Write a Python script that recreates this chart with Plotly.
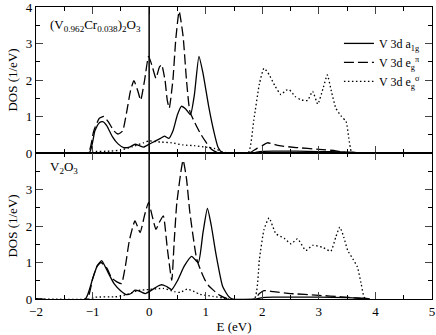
import plotly.graph_objects as go
from plotly.subplots import make_subplots

# ==== Data ====
# top panel: (V0.962Cr0.038)2O3
top_a1g_e = [-2.0, -1.06, -0.96, -0.88, -0.82, -0.75, -0.65, -0.55, -0.45, -0.35, -0.25, -0.17, -0.1, 0.0, 0.1,
             0.2, 0.27, 0.35, 0.42, 0.5, 0.57, 0.65, 0.73, 0.8, 0.88, 0.95, 1.05, 1.15, 1.22, 1.3,
             1.85, 1.95, 2.2, 2.6, 3.0, 3.4, 3.6, 3.7]
top_a1g = [0, 0, 0.6, 0.83, 0.86, 0.75, 0.45, 0.25, 0.15, 0.16, 0.24, 0.2, 0.16, 0.24, 0.32,
           0.4, 0.46, 0.4, 0.6, 1.05, 1.28, 1.2, 1.05, 1.6, 2.65, 2.2, 1.3, 0.55, 0.15, 0,
           0, 0.04, 0.05, 0.05, 0.04, 0.03, 0.02, 0]

top_pi_e = [-2.0, -1.08, -0.98, -0.88, -0.8, -0.72, -0.62, -0.55, -0.47, -0.4, -0.33, -0.27, -0.2, -0.15,
            -0.08, -0.01, 0.05, 0.12, 0.18, 0.22, 0.28, 0.32, 0.355, 0.42, 0.47, 0.53, 0.6, 0.66, 0.72,
            0.81, 0.9, 0.99, 1.1, 1.2, 1.3,
            1.77, 1.9, 2.0, 2.09, 2.3, 2.6, 3.0, 3.3, 3.5]
top_pi = [0, 0, 0.6, 0.95, 1.0, 0.85, 0.6, 0.52, 0.6, 1.1, 1.7, 1.98, 1.7, 1.45,
          2.0, 2.65, 2.4, 2.05, 2.35, 2.42, 2.0, 1.45, 1.23, 2.0, 3.1, 3.88, 3.2, 2.0, 1.14,
          0.82, 0.55, 0.33, 0.1, 0.02, 0,
          0, 0.12, 0.2, 0.28, 0.2, 0.15, 0.1, 0.06, 0]

top_sig_e = [-2.0, -1.1, -1.0, -0.7, -0.5, -0.3, -0.1, 0.0, 0.2, 0.4, 0.6, 0.8, 1.0, 1.15, 1.3, 1.4,
             1.75, 1.85, 1.95, 2.03, 2.12, 2.22, 2.33, 2.42, 2.48, 2.58, 2.68, 2.8, 2.89, 2.98, 3.08,
             3.15, 3.22, 3.3, 3.4, 3.48, 3.53, 3.57, 3.6]
top_sig = [0, 0, 0.04, 0.05, 0.08, 0.17, 0.28, 0.33, 0.3, 0.28, 0.22, 0.2, 0.16, 0.13, 0.03, 0,
           0, 0.9, 1.9, 2.32, 2.15, 1.85, 1.6, 1.72, 1.73, 1.55, 1.46, 1.44, 1.69, 1.34, 1.8,
           2.14, 1.7, 1.23, 1.0, 0.87, 0.4, 0.05, 0]

# bottom panel: V2O3
bot_a1g_e = [-2.0, -1.13, -1.0, -0.92, -0.84, -0.75, -0.62, -0.5, -0.4, -0.32, -0.25, -0.15, -0.07, 0.05,
             0.15, 0.22, 0.3, 0.4, 0.5, 0.62, 0.75, 0.87, 0.95, 1.03, 1.1, 1.18, 1.3, 1.4, 1.47,
             1.9, 2.0, 2.2, 3.0, 3.5, 3.8, 3.9]
bot_a1g = [0, 0, 0.55, 0.9, 1.05, 0.8, 0.42, 0.22, 0.12, 0.15, 0.24, 0.2, 0.15, 0.25,
           0.35, 0.39, 0.35, 0.26, 0.5, 0.9, 1.17, 1.0, 1.8, 2.48, 2.0, 1.24, 0.34, 0.08, 0,
           0, 0.04, 0.05, 0.05, 0.04, 0.02, 0]

bot_pi_e = [-2.0, -1.1, -1.0, -0.92, -0.85, -0.75, -0.66, -0.57, -0.49, -0.42, -0.35, -0.25, -0.16,
            -0.08, -0.01, 0.05, 0.12, 0.18, 0.25, 0.32, 0.4, 0.44, 0.49, 0.6, 0.66, 0.72, 0.84, 0.92,
            0.99, 1.06, 1.13, 1.25, 1.4,
            1.86, 1.95, 2.03, 2.2, 2.5, 3.0, 3.4, 3.7, 3.8]
bot_pi = [0, 0, 0.55, 0.9, 1.0, 0.85, 0.57, 0.47, 0.42, 0.9, 1.6, 2.14, 1.82,
          2.3, 2.65, 2.3, 1.91, 2.1, 2.28, 1.4, 0.51, 1.5, 2.64, 3.8, 3.3, 2.37, 1.1, 0.75,
          0.51, 0.35, 0.25, 0.1, 0,
          0, 0.15, 0.23, 0.2, 0.15, 0.1, 0.06, 0.02, 0]

bot_sig_e = [-2.0, -1.05, -0.95, -0.6, -0.4, -0.2, 0.0, 0.25, 0.45, 0.55, 0.67, 0.8, 0.9, 1.13, 1.3, 1.4,
             1.86, 1.95, 2.03, 2.12, 2.24, 2.39, 2.51, 2.62, 2.77, 2.89, 3.06, 3.21, 3.3, 3.37, 3.44,
             3.51, 3.6, 3.68, 3.75, 3.8, 3.85]
bot_sig = [0, 0, 0.05, 0.06, 0.12, 0.23, 0.26, 0.29, 0.2, 0.18, 0.27, 0.2, 0.13, 0.07, 0.03, 0,
           0, 1.1, 1.9, 2.22, 1.79, 1.66, 1.51, 1.65, 1.33, 1.47, 1.42, 1.31, 1.7, 1.97, 1.7,
           1.33, 1.1, 0.88, 0.4, 0.05, 0]

series_names = ['V 3d a<sub>1g</sub>', 'V 3d e<sub>g</sub><sup>π</sup>', 'V 3d e<sub>g</sub><sup>σ</sup>']
panel_labels = ['(V<sub>0.962</sub>Cr<sub>0.038</sub>)<sub>2</sub>O<sub>3</sub>', 'V<sub>2</sub>O<sub>3</sub>']

# ==== Figure ====
FONT = 'Liberation Serif'
dashes = ['solid', '10px,4px', '1.5px,2.5px']

fig = make_subplots(rows=2, cols=1, shared_xaxes=True, vertical_spacing=0)

panels = [
    [(top_a1g_e, top_a1g), (top_pi_e, top_pi), (top_sig_e, top_sig)],
    [(bot_a1g_e, bot_a1g), (bot_pi_e, bot_pi), (bot_sig_e, bot_sig)],
]
for r, curves in enumerate(panels, start=1):
    for k, (e, d) in enumerate(curves):
        fig.add_trace(go.Scatter(
            x=e, y=d, mode='lines',
            line=dict(color='black', width=1.3, dash=dashes[k], shape='spline', smoothing=0.5),
            name=series_names[k], showlegend=(r == 1),
        ), row=r, col=1)

# Fermi level
fig.add_shape(type='line', x0=0, x1=0, y0=0, y1=1, xref='x', yref='paper',
              line=dict(color='black', width=1.5))

fig.add_annotation(x=-1.78, y=3.5, xref='x', yref='y', text=panel_labels[0], showarrow=False,
                   xanchor='left', font=dict(family=FONT, size=13, color='black'))
fig.add_annotation(x=-1.78, y=3.6, xref='x2', yref='y2', text=panel_labels[1], showarrow=False,
                   xanchor='left', font=dict(family=FONT, size=13, color='black'))

xax = dict(range=[-2, 5], dtick=1, ticks='inside', ticklen=7, showline=True, linecolor='black',
           linewidth=1.3, mirror='allticks', showgrid=False, zeroline=False,
           minor=dict(dtick=0.5, ticks='inside', ticklen=4, tickcolor='black'),
           tickfont=dict(family=FONT, size=13, color='black'), ticklabeloverflow='allow')
yax = dict(range=[0, 4], ticks='inside', ticklen=7, showline=True, linecolor='black',
           linewidth=1.3, mirror='allticks', showgrid=False, zeroline=False,
           minor=dict(dtick=0.5, ticks='inside', ticklen=4, tickcolor='black'),
           tickfont=dict(family=FONT, size=13, color='black'), ticklabeloverflow='allow',
           title=dict(text='DOS (1/eV)', standoff=5, font=dict(family=FONT, size=13, color='black')))

fig.update_xaxes(**xax)
fig.update_xaxes(showticklabels=False, row=1, col=1)
fig.update_xaxes(title=dict(text='E (eV)', standoff=4, font=dict(family=FONT, size=13, color='black')),
                 row=2, col=1)
fig.update_yaxes(**yax)
fig.update_yaxes(tickvals=[0, 1, 2, 3, 4], row=1, col=1)
fig.update_yaxes(tickvals=[0, 1, 2, 3], row=2, col=1)

fig.update_layout(
    width=436, height=335,
    margin=dict(l=36, r=4, t=7, b=36, autoexpand=False),
    paper_bgcolor='white', plot_bgcolor='white',
    showlegend=True,
    legend=dict(x=0.765, y=0.925, xanchor='left', yanchor='top', bgcolor='rgba(0,0,0,0)',
                font=dict(family=FONT, size=12, color='black'), tracegroupgap=0),
    font=dict(family=FONT, size=13, color='black'),
)

# the page body has a default 8px margin; drop it so the figure sits at the window origin
fig.write_html('out.html', config={'displayModeBar': False},
               post_script="document.body.style.margin='0';")
